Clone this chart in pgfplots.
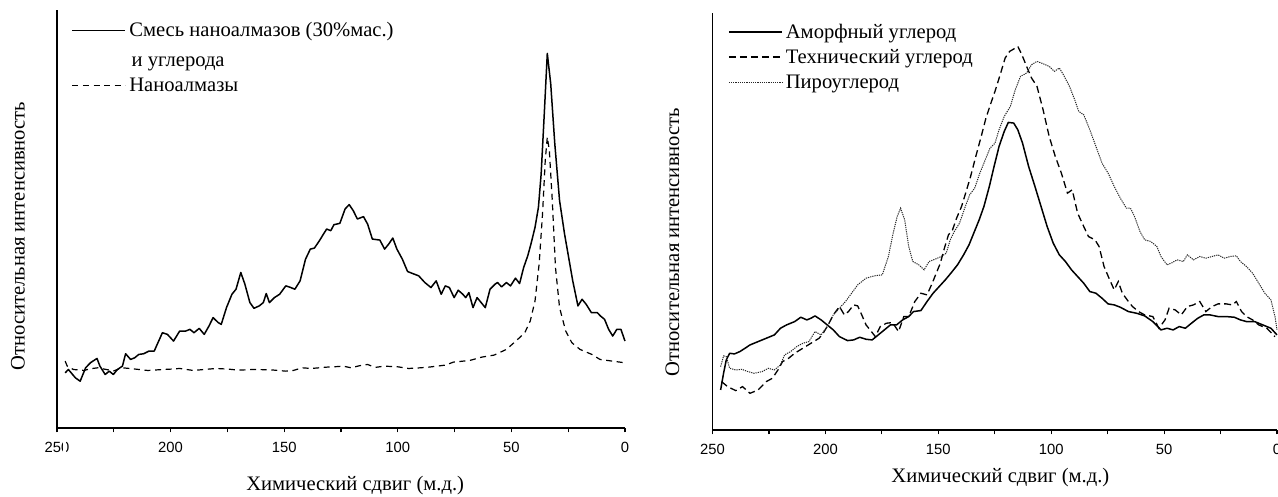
\documentclass[border=0pt]{standalone}
\usepackage{fontspec}
\setmainfont{Liberation Serif}
\newfontfamily\tickfont{Liberation Sans}
\usepackage{pgfplots}
\pgfplotsset{compat=1.18}
\pgfplotsset{
  nmr/.style={
    scale only axis,
    x dir=reverse,
    xmin=0, xmax=250, ymin=0, ymax=1250,
    axis x line*=bottom, axis y line*=left,
    axis line style={-, line width=0.7pt},
    xtick={0,50,...,250}, minor xtick={25,75,...,225},
    ytick=\empty,
    tick align=outside, major tick length=2.2pt, minor tick length=2.2pt,
    tick style={line width=0.6pt, black},
    /pgf/number format/assume math mode=true,
    xticklabel style={font=\tickfont\fontsize{7.4}{8.5}\selectfont, yshift=-1.5pt},
    label style={font=\fontsize{10.3}{12}\selectfont},
    clip=false,
    legend image code/.code={\draw[#1] (0pt,0pt) -- (26.5pt,0pt);},
    legend cell align=left,
  }
}
\begin{document}
\begin{tikzpicture}
\path[use as bounding box] (0,0) rectangle (639pt,248.5pt);
% ---------------- left panel ----------------
\begin{axis}[nmr,
  at={(28.5pt,34.5pt)}, anchor=south west,
  width=284pt, height=209pt,
  xlabel={Химический сдвиг (м.д.)},
  ylabel={Относительная интенсивность},
  xlabel style={at={(axis description cs:0.525,0)}, anchor=center, yshift=-29pt},
  ylabel style={at={(axis description cs:-0.0687,0.459)}, anchor=center},
  legend style={draw=none, fill=none, at={(axis description cs:0.025,0.985)}, anchor=north west,
    inner sep=0pt, row sep=0pt, font=\fontsize{10.3}{12}\selectfont,
    nodes={inner xsep=1.6pt, inner ysep=0pt, text height=10pt, text depth=3.75pt}},
]
\addplot[black, line width=0.75pt, line join=round] coordinates {
(246.4,165)(245.0,175)(241.9,150)(239.8,140)(237.4,180)(235.3,195)(232.4,208)(231.1,185)(228.8,160)(227.0,170)(225.2,160)(223.4,175)(221.2,185)(219.8,222)(217.6,205)(215.8,210)(214.0,220)(211.9,222)(209.5,230)(207.2,230)(205.9,250)(203.6,285)(201.4,280)(198.7,260)(196.0,290)(193.3,290)(191.5,295)(189.7,285)(187.4,298)(185.2,280)(183.1,305)(181.3,330)(179.0,315)(177.7,310)(175.4,360)(173.0,400)(171.2,415)(169.1,465)(167.3,430)(165.1,375)(163.3,358)(161.0,365)(159.2,375)(157.9,402)(156.5,375)(154.3,390)(152.0,400)(149.3,425)(147.1,420)(145.3,415)(143.0,440)(140.6,505)(138.5,535)(136.7,538)(134.5,560)(132.7,580)(131.3,595)(129.5,590)(128.1,608)(125.5,612)(123.2,655)(121.4,668)(119.6,650)(117.8,625)(115.1,632)(113.3,610)(111.2,565)(107.9,562)(105.8,535)(104.0,550)(102.2,568)(100.4,535)(98.0,505)(95.7,468)(93.5,462)(90.8,455)(88.1,435)(85.4,420)(83.1,440)(80.9,400)(79.1,425)(77.3,420)(75.2,390)(73.4,412)(71.4,400)(70.1,390)(68.7,405)(66.9,360)(65.1,390)(63.3,375)(61.5,360)(59.4,415)(57.2,430)(56.1,435)(54.3,422)(52.2,435)(50.4,425)(48.2,448)(46.4,432)(44.6,480)(42.8,515)(41.4,550)(39.6,600)(38.1,660)(36.9,760)(35.6,930)(34.2,1120)(32.7,1030)(30.9,850)(28.8,680)(26.6,580)(24.8,510)(23.0,440)(20.7,365)(18.9,385)(17.1,370)(14.8,345)(12.2,345)(10.8,335)(9.0,325)(7.2,295)(5.4,275)(3.6,295)(1.8,295)(0.0,260)
};
\addlegendentry{Смесь наноалмазов (30\%мас.)}
\addlegendimage{empty legend}
\addlegendentry{\raisebox{-1.25pt}{\hspace{1.2pt}и углерода}}
\addplot[black, line width=0.6pt, dash pattern=on 3pt off 2.3pt] coordinates {
(246.4,200)(245.5,185)(242.8,175)(238.0,172)(235.6,177)(232.0,180)(228.4,175)(225.0,171)(221.2,180)(218.0,178)(214.0,175)(210.0,172)(203.2,175)(200.0,176)(196.0,178)(190.0,172)(185.2,175)(180.0,178)(174.5,176)(170.0,173)(163.7,175)(156.0,174)(149.3,170)(146.0,172)(142.1,180)(138.0,178)(131.3,182)(128.0,183)(124.1,185)(120.5,180)(117.0,186)(113.3,190)(110.0,181)(106.1,185)(100.0,183)(95.3,178)(90.0,180)(86.3,182)(79.1,188)(75.5,197)(68.3,202)(63.0,212)(57.6,218)(52.2,235)(47.7,262)(44.1,285)(41.7,320)(39.6,380)(37.8,490)(36.3,640)(35.1,800)(34.2,870)(33.3,830)(32.0,680)(30.6,480)(28.8,360)(26.1,290)(23.4,255)(19.8,235)(14.6,220)(11.0,205)(5.6,200)(0.0,195)
};
\addlegendentry{Наноалмазы}
\fill[white] (axis cs:247.4,-5) rectangle (axis cs:246.0,-120);
\end{axis}
% ---------------- right panel ----------------
\begin{axis}[nmr,
  at={(356.25pt,33.5pt)}, anchor=south west,
  width=282.25pt, height=208.5pt,
  xlabel={Химический сдвиг (м.д.)},
  ylabel={Относительная интенсивность},
  xlabel style={at={(axis description cs:0.51,0)}, anchor=center, yshift=-24pt},
  ylabel style={at={(axis description cs:-0.0709,0.45)}, anchor=center},
  legend style={draw=none, fill=none, at={(axis description cs:0.027,0.985)}, anchor=north west,
    inner sep=0pt, row sep=0pt, font=\fontsize{10.3}{12}\selectfont,
    nodes={inner xsep=1.6pt, inner ysep=0pt, text height=9.5pt, text depth=3pt}},
]
\addplot[black, line width=0.75pt, line join=round] coordinates {
(246.4,120)(245.1,170)(243.9,210)(242.4,230)(240.3,228)(237.9,235)(235.6,245)(233.4,255)(229.8,265)(226.2,275)(222.6,285)(219.9,305)(217.2,315)(213.6,325)(210.9,338)(208.2,330)(206.4,335)(204.6,342)(201.9,330)(199.2,315)(196.5,300)(193.8,280)(190.2,268)(187.5,270)(184.8,278)(182.0,272)(179.3,270)(176.6,285)(173.9,300)(171.2,315)(168.5,315)(165.8,330)(163.1,340)(161.0,355)(157.7,358)(155.0,385)(152.3,410)(149.6,430)(146.9,450)(144.2,472)(141.5,495)(138.8,525)(136.4,555)(134.3,590)(131.9,630)(129.8,670)(127.4,730)(125.3,790)(123.1,850)(120.8,895)(119.0,922)(116.6,920)(114.8,900)(112.7,860)(110.0,790)(107.2,730)(104.5,670)(101.8,610)(99.1,560)(96.4,525)(93.7,505)(91.0,480)(88.3,460)(85.6,440)(82.9,415)(80.2,410)(77.5,395)(74.8,378)(72.1,375)(69.4,368)(65.8,355)(62.2,350)(58.6,342)(55.0,325)(51.4,300)(48.7,305)(46.0,300)(43.3,310)(40.6,305)(37.9,320)(35.1,335)(32.4,345)(29.7,345)(26.1,340)(22.5,340)(18.9,338)(16.2,330)(13.5,325)(9.9,325)(6.3,315)(2.7,305)(0.0,285)
};
\addlegendentry{Аморфный углерод}
\addplot[black, line width=0.65pt, dash pattern=on 3.5pt off 2pt] coordinates {
(246.0,145)(243.3,130)(239.7,118)(236.7,130)(233.4,110)(229.8,120)(226.2,145)(223.5,155)(220.8,182)(219.0,205)(216.3,215)(213.6,230)(210.0,245)(206.4,260)(202.8,275)(201.0,290)(198.8,315)(196.5,345)(193.8,370)(191.6,345)(189.8,355)(187.5,375)(185.7,372)(183.9,345)(182.0,315)(180.2,300)(177.9,280)(175.7,310)(173.0,320)(170.3,322)(167.6,295)(165.3,340)(163.1,340)(160.4,385)(157.7,410)(155.0,405)(152.7,440)(150.9,470)(149.1,500)(147.3,545)(145.5,585)(143.7,600)(141.9,635)(139.7,670)(137.9,710)(135.7,760)(133.4,820)(131.0,880)(128.9,935)(126.7,980)(124.9,1015)(122.6,1065)(120.4,1115)(118.4,1135)(116.6,1142)(114.8,1150)(113.0,1125)(110.9,1090)(108.7,1055)(106.3,1030)(103.6,960)(100.9,880)(98.2,820)(95.5,770)(92.8,710)(90.7,720)(88.3,650)(85.6,610)(83.5,580)(80.6,570)(78.8,550)(76.6,490)(74.4,455)(72.1,420)(70.3,445)(68.5,410)(65.8,385)(64.0,370)(61.3,355)(58.6,345)(55.0,340)(52.3,305)(49.6,330)(47.8,365)(45.1,360)(42.4,345)(39.7,370)(37.0,375)(34.2,385)(31.5,355)(28.8,370)(26.1,378)(22.5,378)(19.8,375)(18.0,385)(15.7,355)(13.5,340)(10.8,330)(8.1,315)(4.5,305)(0.9,280)
};
\addlegendentry{Технический углерод}
\addplot[black!85, line width=0.5pt, dash pattern=on 0.6pt off 0.5pt] coordinates {
(246.4,190)(245.1,222)(243.9,220)(242.4,185)(239.7,180)(237.0,182)(234.3,175)(231.6,170)(228.0,175)(225.3,185)(222.6,180)(219.9,195)(218.1,225)(215.4,235)(212.7,250)(210.0,260)(207.3,265)(204.6,295)(201.9,285)(199.2,310)(196.5,345)(193.8,365)(191.1,385)(188.4,410)(185.7,435)(182.0,455)(178.4,462)(174.8,465)(172.1,520)(170.0,590)(168.2,640)(166.7,665)(164.9,630)(163.1,550)(161.3,505)(158.6,495)(156.3,480)(154.1,505)(151.4,512)(148.7,520)(146.5,530)(144.7,570)(142.9,595)(140.6,620)(138.3,665)(136.1,705)(133.9,725)(131.6,770)(129.2,810)(127.1,845)(124.9,860)(123.1,900)(120.8,940)(118.1,970)(115.9,1020)(113.6,1060)(110.9,1070)(108.7,1095)(106.3,1105)(103.6,1098)(100.9,1090)(98.6,1075)(96.4,1085)(94.6,1065)(91.9,1030)(89.6,990)(87.8,955)(85.6,945)(82.9,900)(80.2,850)(77.5,800)(74.8,770)(72.1,730)(69.4,695)(66.7,665)(64.9,665)(63.1,640)(60.7,595)(58.6,570)(55.9,565)(53.2,550)(51.4,520)(48.7,495)(46.9,500)(44.2,510)(41.5,505)(39.7,525)(37.0,510)(34.2,520)(31.5,515)(28.8,520)(26.1,525)(23.4,515)(20.7,520)(18.0,522)(16.2,505)(13.5,490)(10.8,470)(8.1,440)(5.4,410)(2.7,390)(0.9,340)(0.0,300)
};
\addlegendentry{Пироуглерод}
\end{axis}
\end{tikzpicture}
\end{document}
